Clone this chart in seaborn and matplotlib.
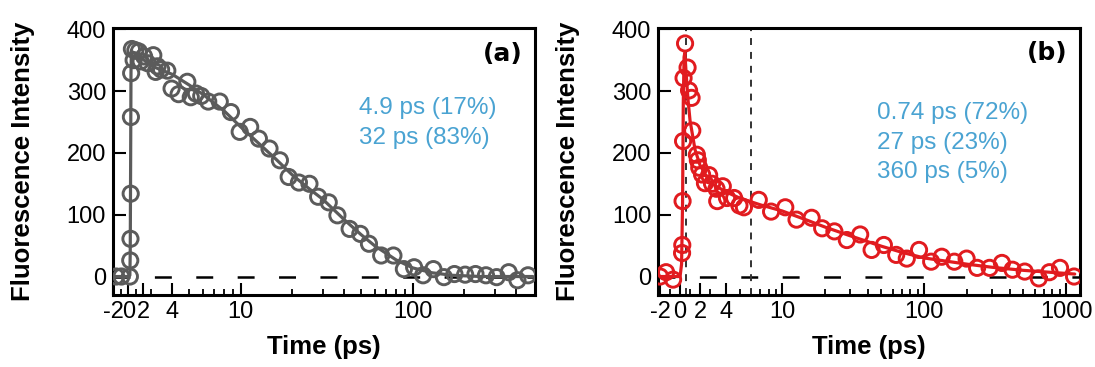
import numpy as np
import matplotlib
matplotlib.use("Agg")
import matplotlib.pyplot as plt
from matplotlib.ticker import FixedLocator, FixedFormatter
import seaborn as sns

# ---------------- data ----------------
a_t = [-1.64, -0.93, 0.20, 0.25, 0.28, 0.31, 0.34, 0.37, 0.47, 0.70, 0.93, 1.40,
       1.64, 2.10, 2.57, 3.10, 3.20, 3.28, 3.44, 3.74, 3.96, 4.35, 4.89, 5.12, 5.49,
       5.89, 6.47, 7.55, 8.77, 9.86, 11.35, 12.75, 14.7, 16.9, 19.0, 21.8, 25.1,
       28.2, 32.5, 36.5, 43.0, 49.6, 55.7, 65.6, 77.3, 88.9, 102, 115, 132, 152,
       175, 202, 232, 267, 308, 362, 407, 469]
a_y = [0, 0, 0, 26, 61, 134, 258, 329, 368, 350, 366, 364, 348, 356, 345, 358,
       331, 340, 335, 333, 304, 295, 315, 290, 296, 292, 283, 283, 266, 234, 242,
       223, 207, 188, 161, 152, 150, 129, 120, 99, 77, 69, 53, 34, 34, 12, 15, 2,
       12, -1, 4, 3, 4, 2, -1, 7, -6, 2]
a_fit_t = [-2.0, 0.0, 0.2, 0.25, 0.3, 0.35, 0.4, 0.6, 1, 2, 3, 4, 5, 6, 8, 10, 13,
           16, 20, 25, 30, 40, 50, 60, 80, 100, 130, 170, 250, 350, 500]
a_fit_y = [0, 0, 2, 40, 180, 330, 364, 363, 359, 351, 341, 327, 310, 295, 268, 242,
           213, 190, 164, 142, 125, 92, 68, 50, 27, 14, 6, 2, 0, 0, 0]

b_t = [-2.0, -1.4, -0.7, 0.20, 0.22, 0.25, 0.30, 0.35, 0.50, 0.75, 0.90, 1.15,
       1.22, 1.68, 1.78, 1.92, 2.20, 2.49, 2.91, 3.20, 3.44, 3.48, 3.81, 4.08, 4.58,
       4.99, 5.37, 6.83, 8.34, 10.5, 12.6, 16.1, 19.1, 23.3, 28.5, 35.4, 42.6, 52.0,
       63.5, 75.4, 92.0, 112, 133, 163, 199, 236, 289, 353, 419, 511, 642, 763, 906,
       1138]
b_y = [0, 7, -5, 38, 51, 122, 219, 321, 377, 338, 301, 289, 236, 197, 188, 176,
       165, 151, 164, 150, 142, 122, 146, 127, 127, 115, 112, 124, 105, 112, 92, 95,
       78, 73, 59, 68, 43, 51, 35, 29, 43, 24, 32, 24, 29, 14, 14, 22, 11, 8, -3, 7,
       14, 0]
b_fit_t = [-2.0, -0.3, 0.0, 0.15, 0.25, 0.32, 0.40, 0.48, 0.6, 0.8, 1.0, 1.5, 2, 3,
           4, 5, 7, 10, 15, 20, 30, 50, 70, 100, 200, 300, 500, 1000, 1150]
b_fit_y = [0, 0, 0, 20, 120, 280, 355, 362, 330, 285, 252, 205, 180, 152, 137, 127,
           116, 106, 91, 80, 66, 49, 39, 30, 20, 15, 10, 5, 4]
b_vlines = [0.6, 6.0]

a_ticks = [-2, 0, 2, 4, 10, 100]
a_ticklabels = ["-2", "0", "2", "4", "10", "100"]
b_ticks = [-2, 0, 2, 4, 10, 100, 1000]
b_ticklabels = ["-2", "0", "2", "4", "10", "100", "1000"]
y_ticks = [0, 100, 200, 300, 400]

a_notes = ["4.9 ps (17%)", "32 ps (83%)"]
b_notes = ["0.74 ps (72%)", "27 ps (23%)", "360 ps (5%)"]

# ---------------- style ----------------
sns.set_theme(style="ticks")
plt.rcParams["font.family"] = ["Liberation Sans", "DejaVu Sans"]
plt.rcParams["lines.scale_dashes"] = False
plt.rcParams["text.color"] = "black"
plt.rcParams["axes.labelcolor"] = "black"

GRAY = "#5b5b5b"
RED = "#e11b1f"
BLUE = "#4aa3d2"


def split_scale(L, k):
    def fwd(x):
        x = np.asarray(x, dtype=float)
        return np.where(x < L, k * x, k * L + np.log10(np.maximum(x, L) / L))

    def inv(y):
        y = np.asarray(y, dtype=float)
        return np.where(y < k * L, y / k, L * 10 ** (np.maximum(y, k * L) - k * L))

    return fwd, inv


fig = plt.figure(figsize=(10.95, 3.67), dpi=100)
ax1 = fig.add_axes([0.1032, 0.196, 0.3854, 0.7277])
ax2 = fig.add_axes([0.601, 0.196, 0.3854, 0.7277])


def style_axis(ax, L, k, xlim, ticks, labels, minors):
    ax.set_xscale("function", functions=split_scale(L, k))
    ax.set_xlim(*xlim)
    ax.set_ylim(-30, 402)
    ax.xaxis.set_major_locator(FixedLocator(ticks))
    ax.xaxis.set_major_formatter(FixedFormatter(labels))
    ax.xaxis.set_minor_locator(FixedLocator(minors))
    ax.set_yticks(y_ticks)
    ax.tick_params(axis="both", which="major", direction="in", length=9, width=1.5,
                   labelsize=17, color="black", labelcolor="black")
    ax.tick_params(axis="x", which="major", pad=4)
    ax.tick_params(axis="y", which="major", pad=5)
    ax.tick_params(axis="x", which="minor", direction="in", length=4.5, width=1.3,
                   color="black")
    for s in ax.spines.values():
        s.set_visible(True)
        s.set_linewidth(2.2)
        s.set_color("black")
    ax.set_xlabel("Time (ps)", fontsize=18.5, fontweight="bold", color="black")
    ax.set_ylabel("Fluorescence Intensity", fontsize=18.5, fontweight="bold",
                  color="black")
    ax.xaxis.set_label_coords(0.5, -0.15)
    ax.yaxis.set_label_coords(-0.185, 0.5)
    ax.axhline(0, color="black", lw=1.8, ls=(0, (12.2, 17.6)), zorder=1)


a_minor = [-1, 1, 3, 5, 6, 7, 8, 9, 20, 30, 40, 50, 60, 70, 80, 90, 200, 300, 400]
b_minor = [-1, 1, 3, 5, 6, 7, 8, 9, 20, 30, 40, 50, 60, 70, 80, 90,
           200, 300, 400, 500, 600, 700, 800, 900]

style_axis(ax1, 3.0, 0.0436, (-2.05, 515), a_ticks, a_ticklabels, a_minor)
style_axis(ax2, 3.2, 0.0704, (-2.2, 1255), b_ticks, b_ticklabels, b_minor)

# panel (a)
sns.scatterplot(x=a_t, y=a_y, ax=ax1, marker="o", s=120, color=GRAY,
                linewidth=2.1, zorder=3, legend=False)
pc = ax1.collections[-1]
pc.set_facecolor("none")
pc.set_edgecolor(GRAY)
sns.lineplot(x=a_fit_t, y=a_fit_y, ax=ax1, color=GRAY, lw=2.3, sort=False,
             estimator=None, zorder=4, legend=False)

# panel (b)
for v in b_vlines:
    ax2.axvline(v, color="#333333", lw=1.4, ls=(0, (5, 5)), zorder=1)
sns.scatterplot(x=b_t, y=b_y, ax=ax2, marker="o", s=120, color=RED,
                linewidth=2.1, zorder=3, legend=False)
pc = ax2.collections[-1]
pc.set_facecolor("none")
pc.set_edgecolor(RED)
sns.lineplot(x=b_fit_t, y=b_fit_y, ax=ax2, color=RED, lw=2.3, sort=False,
             estimator=None, zorder=4, legend=False)

# annotations
for i, txt in enumerate(a_notes):
    ax1.text(0.584, 0.70 - i * 0.112, txt, transform=ax1.transAxes, color=BLUE,
             fontsize=17.5, va="center", ha="left")
for i, txt in enumerate(b_notes):
    ax2.text(0.518, 0.68 - i * 0.11, txt, transform=ax2.transAxes, color=BLUE,
             fontsize=17.5, va="center", ha="left")
ax1.text(0.971, 0.903, "(a)", transform=ax1.transAxes, fontsize=18,
         family="DejaVu Sans", fontweight="bold", ha="right", va="center")
ax2.text(0.971, 0.905, "(b)", transform=ax2.transAxes, fontsize=18,
         family="DejaVu Sans", fontweight="bold", ha="right", va="center")

fig.savefig("out.png", dpi=100)
